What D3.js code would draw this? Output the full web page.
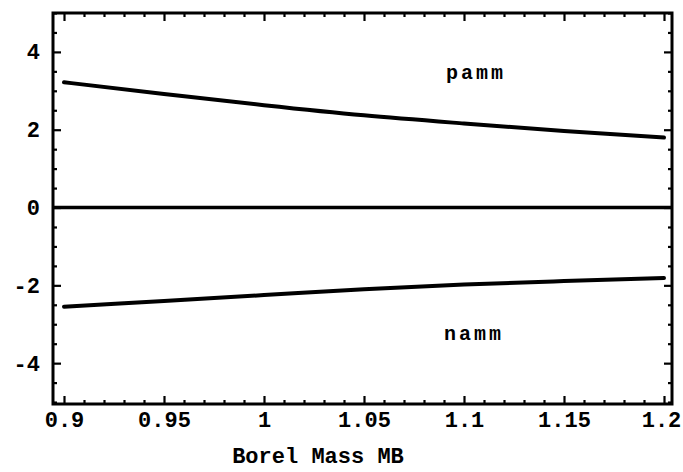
<!DOCTYPE html>
<html><head><meta charset="utf-8">
<script src="https://cdn.jsdelivr.net/npm/d3@7"></script>
<style>body{margin:0;background:#fff}svg{display:block}</style>
</head><body>
<script>
const massX = [0.9, 0.95, 1.0, 1.05, 1.1, 1.15, 1.2];
const pamm = [3.22, 2.92, 2.63, 2.37, 2.16, 1.97, 1.80];
const namm = [-2.55, -2.40, -2.25, -2.10, -1.98, -1.89, -1.81];
const zeroLine = [0, 0];
const xTickValues = [0.9, 0.95, 1.0, 1.05, 1.1, 1.15, 1.2];
const xTickLabels = ["0.9", "0.95", "1", "1.05", "1.1", "1.15", "1.2"];
const yTickValues = [4, 2, 0, -2, -4];
const yTickLabels = ["4", "2", "0", "-2", "-4"];
const seriesLabels = [{text: "pamm", x: 1.106, y: 3.3}, {text: "namm", x: 1.105, y: -3.4}];
const xTitle = "Borel Mass MB";

const W = 683, H = 472;
const L = 53, R = 672, T = 13, B = 404;
const x = d3.scaleLinear().domain([0.8945, 1.204]).range([L, R]);
const y = d3.scaleLinear().domain([-5.05, 5.0]).range([B, T]);

const svg = d3.select("body").append("svg").attr("width", W).attr("height", H);
const font = "'Liberation Mono', 'DejaVu Sans Mono', monospace";

function minorTicks(lo, hi, step) {
  const out = [];
  for (let v = lo; v <= hi + 1e-9; v += step) out.push(+v.toFixed(4));
  return out;
}
const xMinor = minorTicks(0.9, 1.2, 0.01).filter(v => !xTickValues.some(t => Math.abs(t - v) < 1e-6));
const yMinor = minorTicks(-5, 5, 0.5).filter(v => !yTickValues.some(t => Math.abs(t - v) < 1e-6));

function styleAxis(g) {
  g.select(".domain").remove();
  g.selectAll("line").attr("stroke", "#000").attr("stroke-width", 2.2);
  g.selectAll("text").attr("font-family", font).attr("font-weight", "bold").attr("font-size", 22).attr("fill", "#000");
}

// bottom
const xAxisG = svg.append("g").attr("transform", `translate(0,${B})`)
  .call(d3.axisBottom(x).tickValues(xTickValues).tickSize(-8).tickPadding(7)
    .tickFormat((d, i) => xTickLabels[i])).call(styleAxis);
xAxisG.selectAll("text").filter((d, i) => i === xTickValues.length - 1).attr("dx", -3);
svg.append("g").attr("transform", `translate(0,${B})`)
  .call(d3.axisBottom(x).tickValues(xMinor).tickSize(-4).tickFormat("")).call(styleAxis);
// top
svg.append("g").attr("transform", `translate(0,${T})`)
  .call(d3.axisTop(x).tickValues(xTickValues).tickSize(-8).tickFormat("")).call(styleAxis);
svg.append("g").attr("transform", `translate(0,${T})`)
  .call(d3.axisTop(x).tickValues(xMinor).tickSize(-4).tickFormat("")).call(styleAxis);
// left
svg.append("g").attr("transform", `translate(${L},0)`)
  .call(d3.axisLeft(y).tickValues(yTickValues).tickSize(-8).tickPadding(13)
    .tickFormat((d, i) => yTickLabels[i])).call(styleAxis);
svg.append("g").attr("transform", `translate(${L},0)`)
  .call(d3.axisLeft(y).tickValues(yMinor).tickSize(-4).tickFormat("")).call(styleAxis);
// right
svg.append("g").attr("transform", `translate(${R},0)`)
  .call(d3.axisRight(y).tickValues(yTickValues).tickSize(-8).tickFormat("")).call(styleAxis);
svg.append("g").attr("transform", `translate(${R},0)`)
  .call(d3.axisRight(y).tickValues(yMinor).tickSize(-4).tickFormat("")).call(styleAxis);

// frame
svg.append("rect").attr("x", L).attr("y", T).attr("width", R - L).attr("height", B - T)
  .attr("fill", "none").attr("stroke", "#000").attr("stroke-width", 3);

// zero axis line
svg.append("line").attr("x1", x(x.domain()[0])).attr("x2", x(x.domain()[1]))
  .attr("y1", y(zeroLine[0])).attr("y2", y(zeroLine[1]))
  .attr("stroke", "#000").attr("stroke-width", 3.5);

const line = d3.line().x(d => x(d[0])).y(d => y(d[1])).curve(d3.curveMonotoneX);
[pamm, namm].forEach(s => {
  svg.append("path").datum(massX.map((m, i) => [m, s[i]])).attr("d", line)
    .attr("fill", "none").attr("stroke", "#000").attr("stroke-width", 4).attr("stroke-linecap", "round");
});

svg.selectAll("text.lab").data(seriesLabels).enter().append("text").attr("class", "lab")
  .attr("x", d => x(d.x)).attr("y", d => y(d.y)).attr("text-anchor", "middle")
  .attr("font-family", font).attr("font-weight", "bold").attr("font-size", 20)
  .attr("letter-spacing", 3).text(d => d.text);

svg.append("text").attr("x", 318).attr("y", 463).attr("text-anchor", "middle")
  .attr("font-family", font).attr("font-weight", "bold").attr("font-size", 22).text(xTitle);
</script>
</body></html>
